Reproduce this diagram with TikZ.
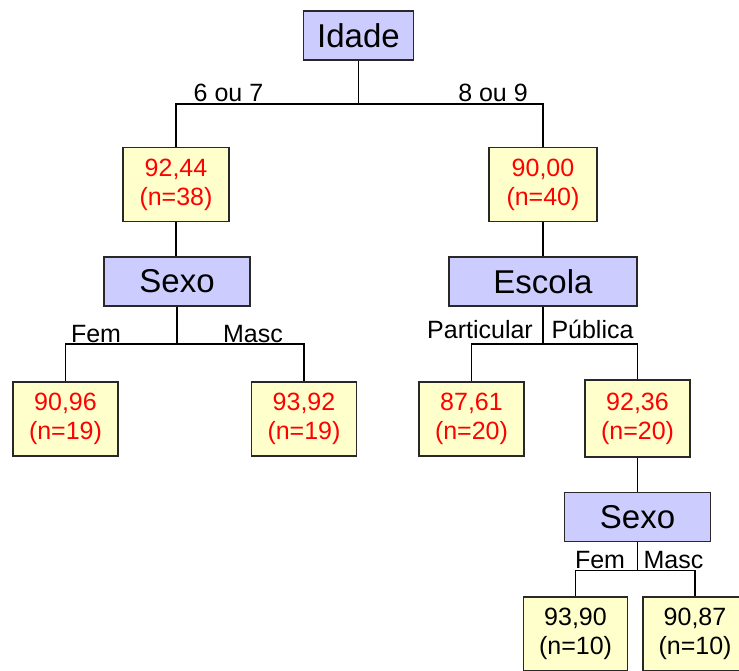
\documentclass[tikz,border=0pt]{standalone}
\usepackage{fontspec}
\setmainfont{Liberation Sans}
\definecolor{splitfill}{RGB}{204,204,255}
\definecolor{leaffill}{RGB}{255,255,204}
\definecolor{edgegray}{RGB}{40,40,40}
\tikzset{
  splitbox/.style={draw=edgegray, line width=1.2pt, fill=splitfill, inner sep=0pt,
    minimum height=49pt, font=\fontsize{33}{36}\selectfont},
  leafbox/.style={draw=edgegray, line width=1.2pt, fill=leaffill, inner sep=0pt,
    minimum width=106pt, minimum height=74pt, align=center, text=red,
    font=\fontsize{25}{29}\selectfont},
  branchlbl/.style={anchor=base, inner sep=0pt, font=\fontsize{25}{28}\selectfont},
  link/.style={draw=black, line width=1.1pt}
}
\begin{document}
\begin{tikzpicture}[x=1pt,y=-1pt]
\useasboundingbox (0,0) rectangle (739,670);
\clip (0,0) rectangle (739,670);

% split nodes
\node[splitbox, minimum width=110pt] (idade) at (358.5,35.5) {Idade};
\node[splitbox, minimum width=146pt] (sexoA) at (177,281.5) {Sexo};
\node[splitbox, minimum width=188pt] (escola) at (543,281.5) {Escola};
\node[splitbox, minimum width=146pt] (sexoB) at (637.5,517) {Sexo};

% leaf nodes
\node[leafbox, minimum width=106pt] (n1) at (176,184.5) {92,44\\(n=38)};
\node[leafbox, minimum width=108pt] (n2) at (543,184.5) {90,00\\(n=40)};
\node[leafbox, minimum width=105pt] (n3) at (65.5,419) {90,96\\(n=19)};
\node[leafbox, minimum width=105pt] (n4) at (304,419) {93,92\\(n=19)};
\node[leafbox, minimum width=105pt] (n5) at (471.5,419) {87,61\\(n=20)};
\node[leafbox, minimum width=105pt, minimum height=77pt] (n6) at (637.5,418.5) {92,36\\(n=20)};
\node[leafbox, minimum width=104pt, text=black] (n7) at (575.5,634) {93,90\\(n=10)};
\node[leafbox, minimum width=104pt, text=black] (n8) at (695,634) {90,87\\(n=10)};

% branching points
\coordinate (b1) at (358.5,104);
\coordinate (b2) at (177,344);
\coordinate (b3) at (543,344);
\coordinate (b4) at (637.5,570.5);

% connectors
\draw[link] (idade.south) -- (b1);
\draw[link] (n1.north) |- (b1) -| (n2.north);
\draw[link] (n1.south) -- (sexoA.north -| n1.south);
\draw[link] (n2.south) -- (escola.north);
\draw[link] (sexoA.south) -- (b2);
\draw[link] (n3.north) |- (b2) -| (n4.north);
\draw[link] (escola.south) -- (b3);
\draw[link] (n5.north) |- (b3) -| (n6.north);
\draw[link] (n6.south) -- (sexoB.north);
\draw[link] (sexoB.south) -- (b4);
\draw[link] (n7.north) |- (b4) -| (n8.north);

% branch labels
\node[branchlbl] (l1) at (228.5,101.5) {6 ou 7};
\node[branchlbl] (l2) at (493,101.5) {8 ou 9};
\node[branchlbl] (l3) at (96,342) {Fem};
\node[branchlbl] (l4) at (253,342) {Masc};
\node[branchlbl] (l5) at (480,338) {Particular};
\node[branchlbl] (l6) at (592.5,338) {Pública};
\node[branchlbl] (l7) at (600,568) {Fem};
\node[branchlbl] (l8) at (673.5,568) {Masc};
\end{tikzpicture}
\end{document}
